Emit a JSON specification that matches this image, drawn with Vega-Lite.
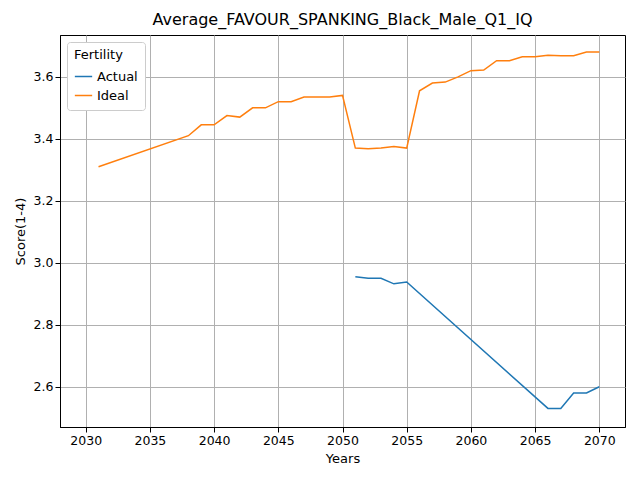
{
  "$schema": "https://vega.github.io/schema/vega-lite/v6.json",
  "width": 640,
  "height": 480,
  "autosize": {"type": "fit", "contains": "padding"},
  "padding": {"left": 14, "right": 15, "top": 12, "bottom": 14},
  "title": {"text": "Average_FAVOUR_SPANKING_Black_Male_Q1_IQ", "fontSize": 16, "fontWeight": "normal", "font": "DejaVu Sans", "color": "black", "offset": 7},
  "data": {
    "values": [
      {"Year": 2031, "Score": 3.31, "Fertility": "Ideal"},
      {"Year": 2038, "Score": 3.41, "Fertility": "Ideal"},
      {"Year": 2039, "Score": 3.445, "Fertility": "Ideal"},
      {"Year": 2040, "Score": 3.445, "Fertility": "Ideal"},
      {"Year": 2041, "Score": 3.475, "Fertility": "Ideal"},
      {"Year": 2042, "Score": 3.47, "Fertility": "Ideal"},
      {"Year": 2043, "Score": 3.5, "Fertility": "Ideal"},
      {"Year": 2044, "Score": 3.5, "Fertility": "Ideal"},
      {"Year": 2045, "Score": 3.52, "Fertility": "Ideal"},
      {"Year": 2046, "Score": 3.52, "Fertility": "Ideal"},
      {"Year": 2047, "Score": 3.535, "Fertility": "Ideal"},
      {"Year": 2048, "Score": 3.535, "Fertility": "Ideal"},
      {"Year": 2049, "Score": 3.535, "Fertility": "Ideal"},
      {"Year": 2050, "Score": 3.54, "Fertility": "Ideal"},
      {"Year": 2051, "Score": 3.37, "Fertility": "Ideal"},
      {"Year": 2052, "Score": 3.368, "Fertility": "Ideal"},
      {"Year": 2053, "Score": 3.37, "Fertility": "Ideal"},
      {"Year": 2054, "Score": 3.375, "Fertility": "Ideal"},
      {"Year": 2055, "Score": 3.37, "Fertility": "Ideal"},
      {"Year": 2056, "Score": 3.555, "Fertility": "Ideal"},
      {"Year": 2057, "Score": 3.58, "Fertility": "Ideal"},
      {"Year": 2058, "Score": 3.583, "Fertility": "Ideal"},
      {"Year": 2059, "Score": 3.6, "Fertility": "Ideal"},
      {"Year": 2060, "Score": 3.62, "Fertility": "Ideal"},
      {"Year": 2061, "Score": 3.622, "Fertility": "Ideal"},
      {"Year": 2062, "Score": 3.652, "Fertility": "Ideal"},
      {"Year": 2063, "Score": 3.652, "Fertility": "Ideal"},
      {"Year": 2064, "Score": 3.665, "Fertility": "Ideal"},
      {"Year": 2065, "Score": 3.665, "Fertility": "Ideal"},
      {"Year": 2066, "Score": 3.67, "Fertility": "Ideal"},
      {"Year": 2067, "Score": 3.668, "Fertility": "Ideal"},
      {"Year": 2068, "Score": 3.668, "Fertility": "Ideal"},
      {"Year": 2069, "Score": 3.68, "Fertility": "Ideal"},
      {"Year": 2070, "Score": 3.68, "Fertility": "Ideal"},
      {"Year": 2051, "Score": 2.955, "Fertility": "Actual"},
      {"Year": 2052, "Score": 2.95, "Fertility": "Actual"},
      {"Year": 2053, "Score": 2.95, "Fertility": "Actual"},
      {"Year": 2054, "Score": 2.932, "Fertility": "Actual"},
      {"Year": 2055, "Score": 2.938, "Fertility": "Actual"},
      {"Year": 2066, "Score": 2.53, "Fertility": "Actual"},
      {"Year": 2067, "Score": 2.53, "Fertility": "Actual"},
      {"Year": 2068, "Score": 2.58, "Fertility": "Actual"},
      {"Year": 2069, "Score": 2.58, "Fertility": "Actual"},
      {"Year": 2070, "Score": 2.6, "Fertility": "Actual"}
    ]
  },
  "mark": {"type": "line", "strokeWidth": 1.5},
  "encoding": {
    "x": {
      "field": "Year", "type": "quantitative", "title": "Years",
      "scale": {"domain": [2028, 2072], "nice": false, "zero": false},
      "axis": {"values": [2030, 2035, 2040, 2045, 2050, 2055, 2060, 2065, 2070], "format": "d"}
    },
    "y": {
      "field": "Score", "type": "quantitative", "title": "Score(1-4)",
      "scale": {"domain": [2.47, 3.735], "nice": false, "zero": false},
      "axis": {"values": [2.6, 2.8, 3.0, 3.2, 3.4, 3.6], "format": ".1f"}
    },
    "color": {
      "field": "Fertility", "type": "nominal",
      "scale": {"domain": ["Actual", "Ideal"], "range": ["#1f77b4", "#ff7f0e"]},
      "legend": {"orient": "top-left", "title": "Fertility", "symbolType": "stroke", "symbolSize": 300, "strokeColor": "#cccccc", "padding": 7, "fillColor": "white", "cornerRadius": 3, "titleFontWeight": "normal", "titleFontSize": 13, "labelFontSize": 13, "offset": 7}
    }
  },
  "config": {
    "font": "DejaVu Sans",
    "view": {"stroke": "black"},
    "axis": {"grid": true, "gridColor": "#b0b0b0", "domainColor": "black", "tickColor": "black", "labelColor": "black", "titleColor": "black", "labelFontSize": 12.5, "titleFontSize": 13, "titleFontWeight": "normal", "titlePadding": 6}
  }
}
